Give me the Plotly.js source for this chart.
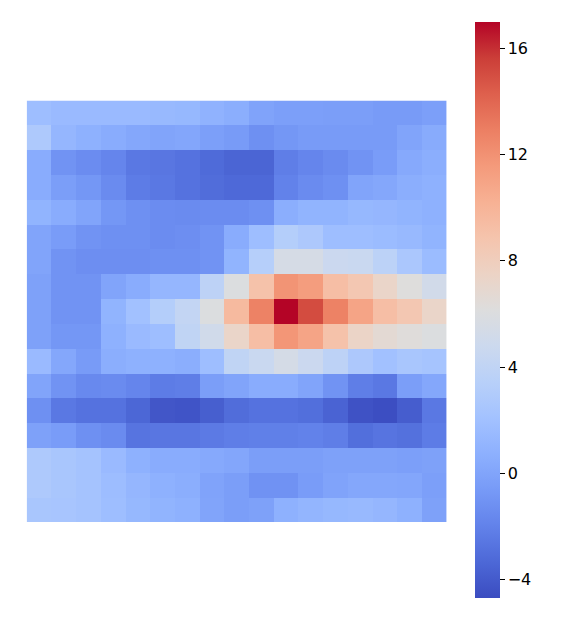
<!DOCTYPE html>
<html>
<head>
<meta charset="utf-8">
<script src="https://cdn.plot.ly/plotly-3.0.1.min.js"></script>
<style>
  html, body { margin: 0; padding: 0; background: #fff; }
  #chart { width: 576px; height: 634px; }
</style>
</head>
<body>
<div id="chart"></div>
<script>
// column / row indices of the grid
const cols = Array.from({ length: 17 }, (_, i) => i);
const rows = Array.from({ length: 17 }, (_, i) => i);

// cell values, top row first
const gridValues = [
  [1.8, 1.5, 1.5, 1.5, 1.5, 1.4, 1.3, 0.9, 0.6, -0.1, -0.3, -0.3, -0.4, -0.4, -0.6, -0.6, -0.3],
  [2.8, 1.2, 0.8, 0.5, 0.2, 0.0, 0.1, -0.3, -0.6, -1.2, -0.8, -0.6, -0.6, -0.6, -0.6, 0.0, 0.4],
  [0.5, -1.0, -1.4, -1.8, -2.5, -2.6, -2.8, -3.2, -3.5, -3.5, -2.2, -1.8, -1.5, -1.0, -0.5, 0.3, 0.6],
  [0.5, -0.4, -0.8, -1.5, -2.3, -2.5, -2.8, -3.1, -3.3, -3.3, -2.0, -1.5, -1.2, 0.0, 0.2, 0.6, 0.8],
  [1.0, 0.5, 0.0, -0.8, -1.2, -1.4, -1.5, -1.4, -1.4, -1.2, 0.6, 1.0, 1.0, 1.3, 1.2, 1.0, 0.8],
  [0.0, -0.5, -1.0, -1.2, -1.2, -1.4, -1.3, -1.0, 0.5, 1.8, 3.2, 2.7, 1.8, 1.8, 1.6, 1.4, 1.0],
  [0.0, -1.0, -1.3, -1.3, -1.3, -1.2, -1.2, -1.0, 1.0, 3.3, 5.5, 5.5, 4.7, 4.6, 3.7, 2.6, 1.6],
  [-0.2, -1.0, -1.0, 0.0, 0.5, 1.2, 1.2, 3.8, 6.0, 9.0, 11.9, 11.4, 9.3, 8.6, 7.3, 6.2, 5.2],
  [-0.2, -1.0, -1.0, 1.0, 2.0, 3.2, 4.2, 6.0, 9.6, 12.8, 17.0, 15.1, 12.8, 11.0, 9.3, 8.6, 7.3],
  [-0.2, -0.8, -0.8, 0.8, 1.5, 1.8, 4.0, 5.1, 7.3, 9.3, 11.8, 11.0, 9.0, 7.4, 6.7, 6.3, 6.0],
  [1.5, 0.2, -0.6, 0.6, 0.8, 0.8, 0.6, 1.8, 4.0, 4.6, 5.4, 4.7, 3.8, 2.7, 2.0, 2.5, 2.3],
  [0.0, -1.0, -1.6, -1.5, -1.8, -2.3, -2.2, -0.4, 0.0, 0.5, 0.5, 0.0, -1.0, -2.2, -2.5, -0.4, 0.2],
  [-1.2, -2.5, -2.8, -2.8, -3.4, -4.2, -4.3, -3.8, -3.1, -2.8, -2.8, -3.0, -3.6, -4.4, -4.6, -3.9, -2.5],
  [-0.2, -0.5, -1.2, -1.5, -2.7, -2.6, -2.6, -2.4, -2.2, -2.1, -2.1, -2.0, -2.2, -3.0, -2.7, -2.9, -2.3],
  [2.8, 2.5, 2.2, 1.5, 0.8, 0.5, 0.5, 0.3, 0.1, -0.4, -0.4, -0.4, -0.2, -0.2, -0.2, -0.3, -0.2],
  [2.8, 2.5, 2.2, 1.7, 1.2, 0.8, 0.6, -0.1, -0.4, -1.1, -1.1, -0.5, -0.1, 0.2, 0.2, 0.1, -0.3],
  [2.5, 2.4, 2.2, 1.8, 1.3, 1.0, 0.8, 0.0, -0.4, -0.2, 0.8, 1.1, 1.3, 1.4, 1.2, 0.8, -0.2],
];

// colour bar ticks
const barTicks = [-4, 0, 4, 8, 12, 16];
const barTickText = ["\u22124", "0", "4", "8", "12", "16"];

// matplotlib "coolwarm"
const coolwarm = [
  [0.0, "rgb(59,76,192)"], [0.0625, "rgb(77,104,215)"], [0.125, "rgb(98,130,234)"],
  [0.1875, "rgb(119,154,247)"], [0.25, "rgb(141,176,254)"], [0.3125, "rgb(163,194,255)"],
  [0.375, "rgb(184,208,249)"], [0.4375, "rgb(204,217,238)"], [0.5, "rgb(221,221,221)"],
  [0.5625, "rgb(236,211,197)"], [0.625, "rgb(245,196,173)"], [0.6875, "rgb(247,177,148)"],
  [0.75, "rgb(244,154,123)"], [0.8125, "rgb(236,127,99)"], [0.875, "rgb(222,96,77)"],
  [0.9375, "rgb(203,62,56)"], [1.0, "rgb(180,4,38)"],
];

const W = 576, H = 634;

const trace = {
  type: "heatmap",
  x: cols,
  y: rows,
  z: gridValues,
  colorscale: coolwarm,
  zmin: -4.7,
  zmax: 17,
  zsmooth: false,
  colorbar: {
    x: 475 / W,
    xanchor: "left",
    y: 1 - 310 / H,
    yanchor: "middle",
    thickness: 25,
    thicknessmode: "pixels",
    len: 576 / H,
    lenmode: "fraction",
    xpad: 0,
    ypad: 0,
    outlinewidth: 0,
    tickvals: barTicks,
    ticktext: barTickText,
    ticks: "outside",
    ticklen: 5,
    tickwidth: 1,
    tickcolor: "#000",
    tickfont: { family: "DejaVu Sans", size: 16, color: "#000" },
  },
};

const layout = {
  width: W,
  height: H,
  margin: { l: 0, r: 0, t: 0, b: 0 },
  paper_bgcolor: "#fff",
  plot_bgcolor: "#fff",
  xaxis: {
    domain: [26.7 / W, 446.6 / W],
    visible: false,
    range: [-0.5, 16.5],
  },
  yaxis: {
    domain: [1 - 522 / H, 1 - 100.5 / H],
    visible: false,
    range: [16.5, -0.5],
  },
};

Plotly.newPlot("chart", [trace], layout, { displayModeBar: false, staticPlot: true });
</script>
</body>
</html>
